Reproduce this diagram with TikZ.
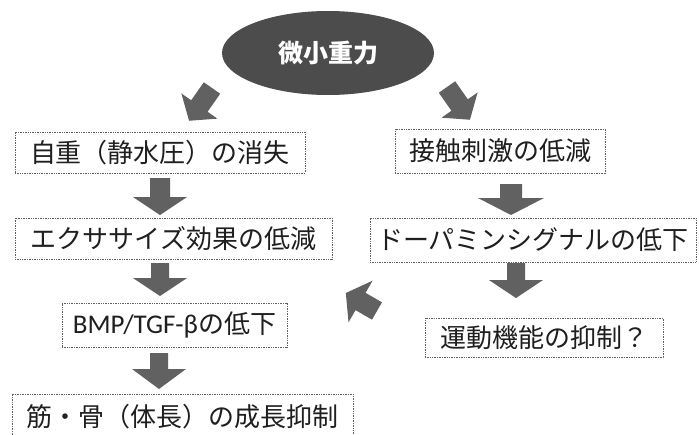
\documentclass[tikz,border=0pt]{standalone}
\usepackage{fontspec}
\setmainfont{Carlito}
\newfontfamily\jp{Noto Sans CJK JP}
\usetikzlibrary{shapes.geometric,calc}
\tikzset{
  box/.style={draw=black!62, line width=0.8pt, dash pattern=on 1pt off 0.7pt,
    inner sep=0pt, anchor=center, text=black!88,
    font=\jp\fontsize{26}{30}\selectfont},
  afill/.style={fill=black!62},
  pics/barrow/.style n args={4}{code={
    \fill[afill] (0,#1) -- ({#4-#3},#1) -- ({#4-#3},#2) -- (#4,0)
      -- ({#4-#3},-#2) -- ({#4-#3},-#1) -- (0,-#1) -- cycle;}},
}
\begin{document}
\begin{tikzpicture}[x=1pt,y=-1pt]
\useasboundingbox (0,0) rectangle (699,434);
\fill[white] (0,0) rectangle (699,434);
\begin{scope}
\clip (0,0) rectangle (699,434);
% top ellipse
\node[ellipse, fill=black!70, minimum width=212pt, minimum height=84pt, inner sep=0pt,
  text=white, font=\jp\bfseries\fontsize{25}{27}\selectfont] (mg) at (328,53) {微小重力};
% left column
\node[box, minimum width=290pt, minimum height=41pt] (a) at (160,152.5) {自重（静水圧）の消失};
\node[box, minimum width=317pt, minimum height=41pt] (b) at (173.5,238.5) {エクササイズ効果の低減};
\node[box, minimum width=225pt, minimum height=44pt] (c) at (174.5,325)
  {{\setmainfont{Carlito}\fontsize{27}{30}\selectfont BMP/TGF-β}の低下};
\node[box, minimum width=341pt, minimum height=46pt] (d) at (182.5,417) {筋・骨（体長）の成長抑制};
% right column
\node[box, minimum width=210pt, minimum height=44pt] (e) at (500,151) {接触刺激の低減};
\node[box, minimum width=326pt, minimum height=44pt] (f) at (533,240) {ドーパミンシグナルの低下};
\node[box, minimum width=238pt, minimum height=39pt] (g) at (544,337.5) {運動機能の抑制？};
% arrow tails
\coordinate (t1) at (212,88);
\coordinate (t2) at (447,87);
\coordinate (t3) at (160,178);
\coordinate (t4) at (160,263);
\coordinate (t5) at (159,353);
\coordinate (t6) at (511,184);
\coordinate (t7) at (516,263);
\coordinate (t8) at (377,311);
% block arrows
\pic[rotate=-125] at (t1) {barrow={10}{22}{18}{40}};
\pic[rotate=-55] at (t2) {barrow={10}{22}{18}{40}};
\pic[rotate=-90] at (t3) {barrow={10}{27}{18}{37}};
\pic[rotate=-90] at (t4) {barrow={9}{27}{18}{33}};
\pic[rotate=-90] at (t5) {barrow={9}{27}{20}{36}};
\pic[rotate=-90] at (t6) {barrow={11}{33}{17}{31}};
\pic[rotate=-90] at (t7) {barrow={9}{27}{18}{35}};
\pic[rotate=150] at (t8) {barrow={10}{24}{17}{36}};
\end{scope}
\end{tikzpicture}
\end{document}
